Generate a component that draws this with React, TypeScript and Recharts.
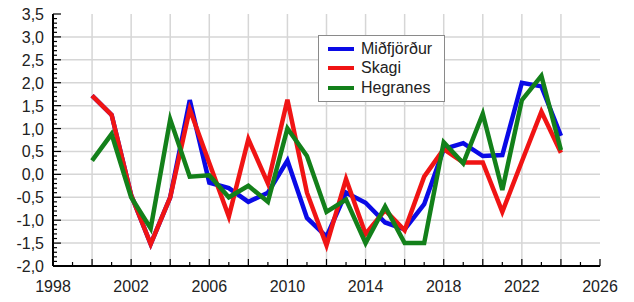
import { LineChart, Line, XAxis, YAxis, ReferenceLine, Legend } from "recharts";

const years = [
  2000, 2001, 2002, 2003, 2004, 2005, 2006, 2007, 2008, 2009, 2010, 2011, 2012,
  2013, 2014, 2015, 2016, 2017, 2018, 2019, 2020, 2021, 2022, 2023, 2024,
];
const midfjordur = [
  1.72, 1.3, -0.45, -1.52, -0.5, 1.62, -0.18, -0.3, -0.6, -0.4, 0.3, -0.95, -1.36,
  -0.4, -0.62, -1.05, -1.2, -0.65, 0.55, 0.68, 0.4, 0.42, 2.0, 1.92, 0.84,
];
const skagi = [
  1.72, 1.3, -0.45, -1.52, -0.5, 1.42, 0.25, -0.92, 0.77, -0.2, 1.63, -0.4, -1.55,
  -0.1, -1.3, -0.78, -1.22, -0.05, 0.55, 0.26, 0.26, -0.82, 0.28, 1.37, 0.47,
];
const hegranes = [
  0.3, 0.88, -0.5, -1.18, 1.2, -0.05, -0.02, -0.5, -0.25, -0.6, 1.0, 0.4, -0.82,
  -0.55, -1.5, -0.7, -1.5, -1.5, 0.7, 0.24, 1.32, -0.34, 1.62, 2.15, 0.53,
];
const seriesOrder = ["Miðfjörður", "Skagi", "Hegranes"];

const xTicks = [
  1998, 1999, 2000, 2001, 2002, 2003, 2004, 2005, 2006, 2007, 2008, 2009, 2010,
  2011, 2012, 2013, 2014, 2015, 2016, 2017, 2018, 2019, 2020, 2021, 2022, 2023,
  2024, 2025, 2026,
];
const xLabels = [1998, 2002, 2006, 2010, 2014, 2018, 2022, 2026];
const xGrid = [2000, 2002, 2004, 2006, 2008, 2010, 2012, 2014, 2016, 2018, 2020, 2022, 2024];
const yGrid = [-1.5, -1, -0.5, 0, 0.5, 1, 1.5, 2, 2.5, 3];
// minor ticks every 0.1, labels every 0.5
const yTicks: number[] = [];
for (let k = -20; k <= 35; k++) yTicks.push(k / 10);

const data = years.map((year, i) => ({
  year,
  midfjordur: midfjordur[i],
  skagi: skagi[i],
  hegranes: hegranes[i],
}));

const TEXT = "#222";
const FONT = 16;
const FAMILY = "'Liberation Sans', Arial, sans-serif";

const isMajorY = (v: number) => Math.abs(v * 2 - Math.round(v * 2)) < 1e-6;
const fmtY = (v: number) => v.toFixed(1).replace(".", ",");

function LeftTick({ x, y, payload }: any) {
  const major = isMajorY(payload.value);
  return (
    <g>
      <line x1={x} x2={x + (major ? 8 : 4)} y1={y} y2={y} stroke="#000" strokeWidth={1.2} />
      {major && (
        <text x={x - 9} y={y} dy={6} textAnchor="end" fontSize={FONT} fontFamily={FAMILY} fill={TEXT}>
          {fmtY(payload.value)}
        </text>
      )}
    </g>
  );
}

function RightTick({ x, y, payload }: any) {
  const major = isMajorY(payload.value);
  return <line x1={x} x2={x - (major ? 8 : 4)} y1={y} y2={y} stroke="#000" strokeWidth={1.2} />;
}

function BottomTick({ x, y, payload }: any) {
  const major = payload.value % 2 === 0;
  return (
    <g>
      <line x1={x} x2={x} y1={y} y2={y - (major ? 7 : 4)} stroke="#000" strokeWidth={1.2} />
      {xLabels.includes(payload.value) && (
        <text x={x} y={y + 26} textAnchor="middle" fontSize={FONT} fontFamily={FAMILY} fill={TEXT}>
          {payload.value}
        </text>
      )}
    </g>
  );
}

function TopTick({ x, y, payload }: any) {
  const major = payload.value % 2 === 0;
  return <line x1={x} x2={x} y1={y} y2={y + (major ? 7 : 4)} stroke="#000" strokeWidth={1.2} />;
}

function LegendBox({ payload }: any) {
  const items = [...(payload || [])].sort(
    (a: any, b: any) => seriesOrder.indexOf(a.value) - seriesOrder.indexOf(b.value)
  );
  return (
    <div
      style={{
        border: "1px solid #8a8a8a",
        background: "#fff",
        padding: "3px 8px 3px 9px",
        width: 108,
        fontFamily: FAMILY,
      }}
    >
      {items.map((p: any) => (
        <div key={p.value} style={{ display: "flex", alignItems: "center", height: 19.5 }}>
          <span style={{ width: 26, height: 4, background: p.color, marginRight: 7 }} />
          <span style={{ fontSize: FONT, color: TEXT, lineHeight: "18px" }}>{p.value}</span>
        </div>
      ))}
    </div>
  );
}

export default function App() {
  return (
    <div style={{ position: "absolute", left: 0, top: 0, fontFamily: FAMILY }}>
      <LineChart width={634} height={302} data={data} margin={{ top: 14, right: 34, bottom: 6, left: 8 }}>
        <XAxis
          dataKey="year"
          type="number"
          domain={[1998, 2026]}
          ticks={xTicks}
          interval={0}
          tickSize={0}
          tickMargin={0}
          tickLine={false}
          tick={<BottomTick />}
          height={30}
          axisLine={{ stroke: "#000", strokeWidth: 2 }}
        />
        <XAxis
          xAxisId="top"
          orientation="top"
          dataKey="year"
          type="number"
          domain={[1998, 2026]}
          ticks={xTicks}
          interval={0}
          tickSize={0}
          tickMargin={0}
          tickLine={false}
          tick={<TopTick />}
          height={0}
          axisLine={{ stroke: "#000", strokeWidth: 2 }}
        />
        <YAxis
          type="number"
          domain={[-2, 3.5]}
          ticks={yTicks}
          interval={0}
          tickSize={0}
          tickMargin={0}
          tickLine={false}
          tick={<LeftTick />}
          width={45}
          axisLine={{ stroke: "#000", strokeWidth: 2 }}
        />
        <YAxis
          yAxisId="right"
          orientation="right"
          type="number"
          domain={[-2, 3.5]}
          ticks={yTicks}
          interval={0}
          tickSize={0}
          tickMargin={0}
          tickLine={false}
          tick={<RightTick />}
          width={0}
          axisLine={{ stroke: "#000", strokeWidth: 2 }}
        />
        {xGrid.map((v) => (
          <ReferenceLine key={"x" + v} x={v} stroke="#d6d6d6" strokeWidth={1.5} />
        ))}
        {yGrid.map((v) => (
          <ReferenceLine key={"y" + v} y={v} stroke="#d6d6d6" strokeWidth={1.5} />
        ))}
        <Line
          type="linear"
          dataKey="midfjordur"
          name="Miðfjörður"
          stroke="#0a0ae6"
          strokeWidth={4.5}
          dot={false}
          isAnimationActive={false}
        />
        <Line
          type="linear"
          dataKey="skagi"
          name="Skagi"
          stroke="#f01414"
          strokeWidth={4.5}
          dot={false}
          isAnimationActive={false}
        />
        <Line
          type="linear"
          dataKey="hegranes"
          name="Hegranes"
          stroke="#13801a"
          strokeWidth={4.5}
          dot={false}
          isAnimationActive={false}
        />
        <Legend
          layout="vertical"
          align="center"
          verticalAlign="middle"
          content={<LegendBox />}
          wrapperStyle={{ left: 318, top: 35, width: 126 }}
        />
      </LineChart>
    </div>
  );
}
